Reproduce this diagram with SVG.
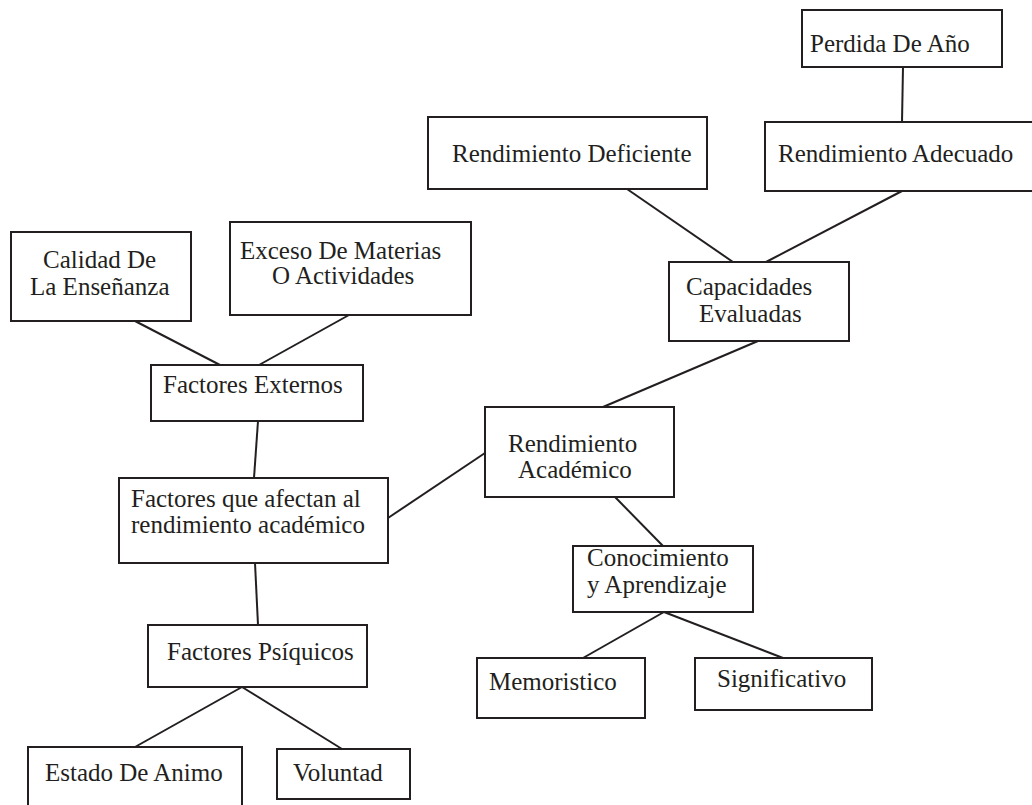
<svg xmlns="http://www.w3.org/2000/svg" width="1032" height="805" viewBox="0 0 1032 805">
  <style>
    .box { fill: #ffffff; stroke: #231f20; stroke-width: 2; }
    .lbl { font-family: "Liberation Serif", "Times New Roman", serif; font-size: 25px; fill: #231f20; }
    .edge { stroke: #231f20; stroke-width: 2; fill: none; }
  </style>
  <rect width="1032" height="805" fill="#ffffff"/>

  <!-- connectors -->
  <g id="connectors">
    <line class="edge" x1="903" y1="67" x2="902" y2="122"/>
    <line class="edge" x1="902" y1="191" x2="766" y2="262"/>
    <line class="edge" x1="627" y1="189" x2="733" y2="262"/>
    <line class="edge" x1="758" y1="341" x2="603" y2="407"/>
    <line class="edge" x1="615" y1="497" x2="663" y2="546"/>
    <line class="edge" x1="664" y1="612" x2="583" y2="658"/>
    <line class="edge" x1="664" y1="612" x2="783" y2="658"/>
    <line class="edge" x1="135" y1="321" x2="220" y2="365"/>
    <line class="edge" x1="349" y1="315" x2="259" y2="365"/>
    <line class="edge" x1="258" y1="421" x2="254" y2="478"/>
    <line class="edge" x1="388" y1="518" x2="485" y2="453"/>
    <line class="edge" x1="255" y1="563" x2="258" y2="625"/>
    <line class="edge" x1="242" y1="687" x2="135" y2="747"/>
    <line class="edge" x1="242" y1="687" x2="342" y2="749"/>
  </g>

  <g id="perdida">
    <rect class="box" x="802" y="10" width="200" height="57"/>
    <text class="lbl" x="810" y="52">Perdida De Año</text>
  </g>
  <g id="adecuado">
    <rect class="box" x="765" y="122" width="280" height="69"/>
    <text class="lbl" x="778" y="162">Rendimiento Adecuado</text>
  </g>
  <g id="deficiente">
    <rect class="box" x="428" y="117" width="279" height="72"/>
    <text class="lbl" x="452" y="162">Rendimiento Deficiente</text>
  </g>
  <g id="capacidades">
    <rect class="box" x="669" y="262" width="180" height="79"/>
    <text class="lbl" x="686" y="295">Capacidades</text>
    <text class="lbl" x="699" y="322">Evaluadas</text>
  </g>
  <g id="rendimiento-academico">
    <rect class="box" x="485" y="407" width="189" height="90"/>
    <text class="lbl" x="508" y="452">Rendimiento</text>
    <text class="lbl" x="518" y="478">Académico</text>
  </g>
  <g id="conocimiento">
    <rect class="box" x="573" y="546" width="180" height="66"/>
    <text class="lbl" x="587" y="566">Conocimiento</text>
    <text class="lbl" x="587" y="593">y Aprendizaje</text>
  </g>
  <g id="memoristico">
    <rect class="box" x="477" y="658" width="168" height="60"/>
    <text class="lbl" x="489" y="690">Memoristico</text>
  </g>
  <g id="significativo">
    <rect class="box" x="695" y="658" width="177" height="52"/>
    <text class="lbl" x="717" y="687">Significativo</text>
  </g>
  <g id="calidad">
    <rect class="box" x="11" y="232" width="180" height="89"/>
    <text class="lbl" x="43" y="268">Calidad De</text>
    <text class="lbl" x="30" y="295">La Enseñanza</text>
  </g>
  <g id="exceso">
    <rect class="box" x="230" y="222" width="241" height="93"/>
    <text class="lbl" x="240" y="259">Exceso De Materias</text>
    <text class="lbl" x="272" y="284">O Actividades</text>
  </g>
  <g id="externos">
    <rect class="box" x="151" y="365" width="212" height="56"/>
    <text class="lbl" x="163" y="393">Factores Externos</text>
  </g>
  <g id="factores">
    <rect class="box" x="119" y="478" width="269" height="85"/>
    <text class="lbl" x="131" y="507">Factores que afectan al</text>
    <text class="lbl" x="131" y="533">rendimiento académico</text>
  </g>
  <g id="psiquicos">
    <rect class="box" x="148" y="625" width="219" height="62"/>
    <text class="lbl" x="167" y="660">Factores Psíquicos</text>
  </g>
  <g id="estado">
    <rect class="box" x="28" y="747" width="214" height="70"/>
    <text class="lbl" x="45" y="781">Estado De Animo</text>
  </g>
  <g id="voluntad">
    <rect class="box" x="277" y="749" width="133" height="50"/>
    <text class="lbl" x="293" y="781">Voluntad</text>
  </g>
</svg>
